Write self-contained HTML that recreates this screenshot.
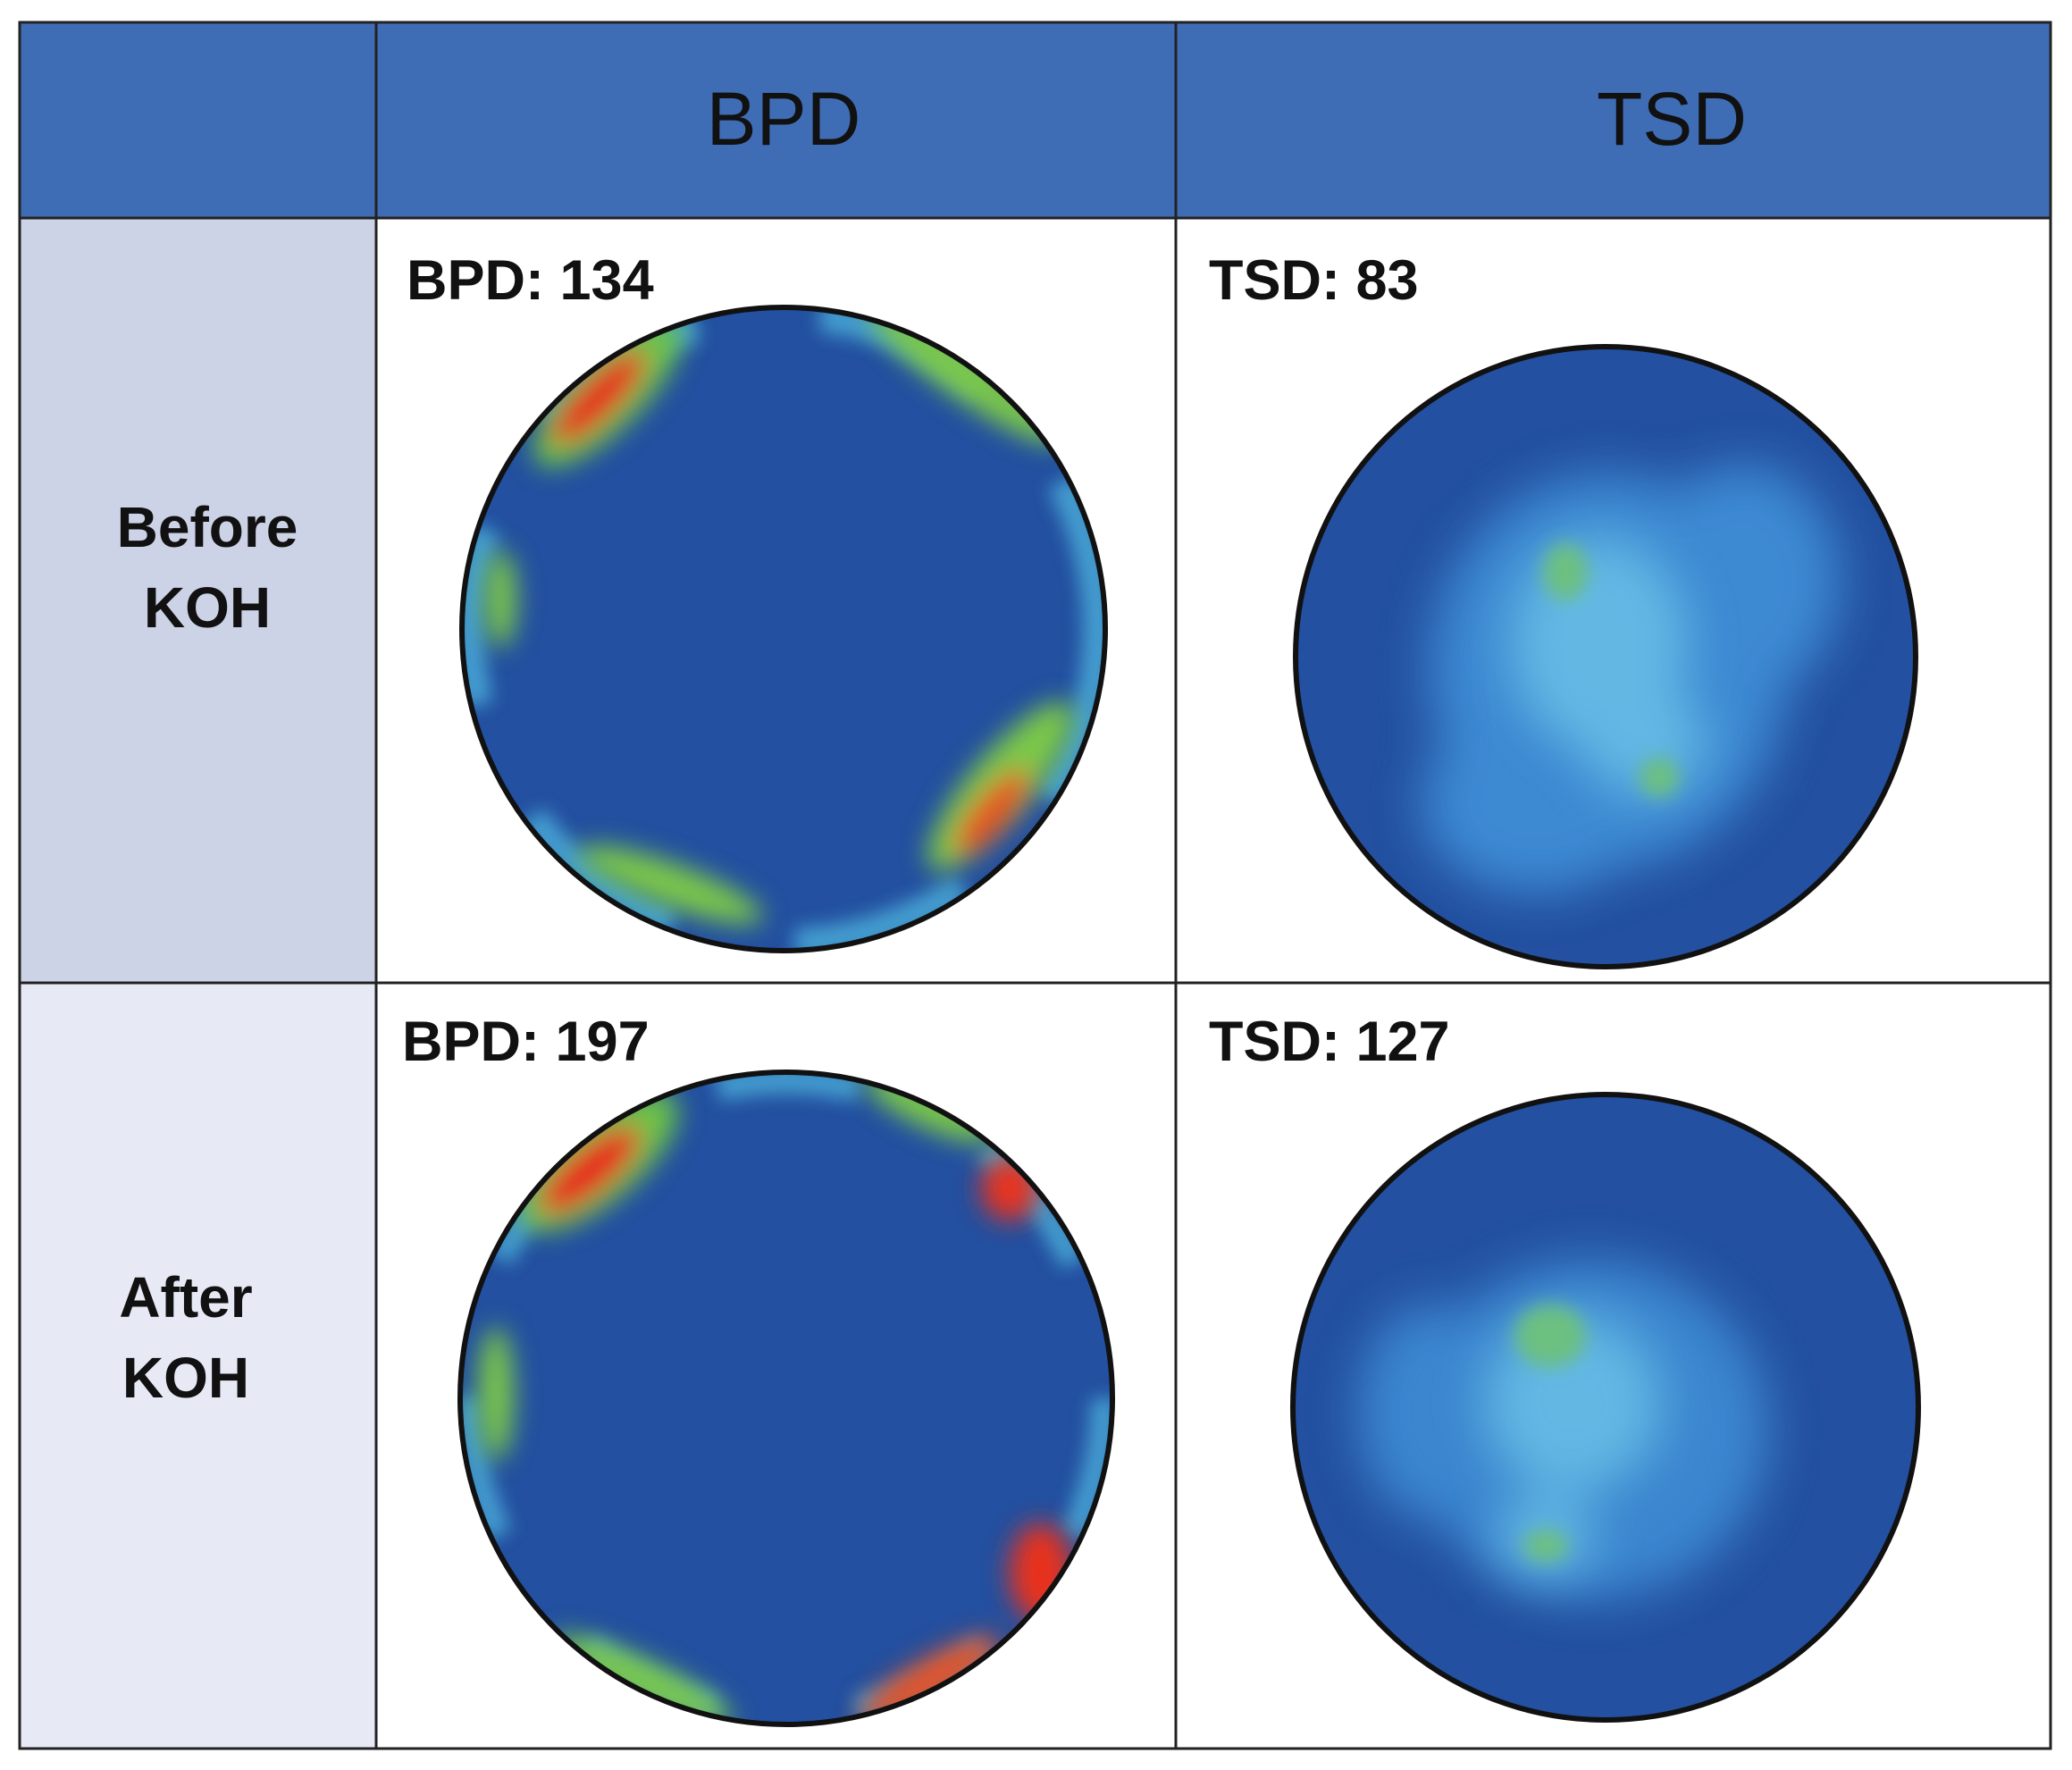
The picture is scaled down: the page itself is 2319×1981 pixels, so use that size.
<!DOCTYPE html>
<html><head><meta charset="utf-8"><style>
html,body{margin:0;padding:0;background:#fff;}
body{width:2319px;height:1981px;position:relative;overflow:hidden;font-family:"Liberation Sans",sans-serif;}
svg{position:absolute;left:0;top:0;}
</style></head><body>
<svg width="2319" height="1981" viewBox="0 0 2319 1981">
<defs>
<filter id="b1" x="-50%" y="-50%" width="200%" height="200%"><feGaussianBlur stdDeviation="14"/></filter>
<filter id="b2" x="-50%" y="-50%" width="200%" height="200%"><feGaussianBlur stdDeviation="28"/></filter>
<filter id="b3" x="-50%" y="-50%" width="200%" height="200%"><feGaussianBlur stdDeviation="10"/></filter>
<clipPath id="c1"><circle cx="877" cy="704" r="360"/></clipPath>
<clipPath id="c2"><circle cx="1797" cy="735" r="347"/></clipPath>
<clipPath id="c3"><circle cx="880" cy="1565" r="365"/></clipPath>
<clipPath id="c4"><circle cx="1797" cy="1575" r="350"/></clipPath>
</defs>
<rect x="22" y="25" width="2273" height="219" fill="#3f6db5"/>
<rect x="22" y="244" width="399" height="856" fill="#cdd3e6"/>
<rect x="22" y="1100" width="399" height="857" fill="#e7eaf5"/>
<g stroke="#222" stroke-width="3" fill="none">
<rect x="22" y="25" width="2273" height="1932"/>
<line x1="22" y1="244" x2="2295" y2="244"/>
<line x1="22" y1="1100" x2="2295" y2="1100"/>
<line x1="421" y1="25" x2="421" y2="1957"/>
<line x1="1316" y1="25" x2="1316" y2="1957"/>
</g>
<text x="877" y="162" font-size="84" text-anchor="middle" fill="#111">BPD</text>
<text x="1871" y="162" font-size="84" text-anchor="middle" fill="#111">TSD</text>
<g font-weight="bold" font-size="64" fill="#111" text-anchor="middle">
<text x="232" y="612">Before</text><text x="232" y="702">KOH</text>
<text x="208" y="1474">After</text><text x="208" y="1564">KOH</text>
</g>
<g font-weight="bold" font-size="63" fill="#111">
<text x="455" y="335">BPD: 134</text>
<text x="1353" y="335">TSD: 83</text>
<text x="450" y="1187">BPD: 197</text>
<text x="1353" y="1187">TSD: 127</text>
</g>
<g clip-path="url(#c1)">
<circle cx="877" cy="704" r="360" fill="#2350a0"/>
<circle cx="877" cy="704" r="352" fill="none" stroke="#4fb8e0" stroke-width="34" stroke-dasharray="200 140" opacity="0.75" filter="url(#b3)"/>
<g filter="url(#b1)">
<ellipse cx="680" cy="440" rx="110" ry="40" transform="rotate(-45 680 440)" fill="#6cc24a"/>
<ellipse cx="670" cy="445" rx="70" ry="22" transform="rotate(-45 670 445)" fill="#e8201c"/>
<ellipse cx="1080" cy="420" rx="130" ry="26" transform="rotate(35 1080 420)" fill="#7cc84a"/>
<ellipse cx="1120" cy="880" rx="120" ry="36" transform="rotate(-50 1120 880)" fill="#7cc84a"/>
<ellipse cx="1110" cy="910" rx="60" ry="20" transform="rotate(-50 1110 910)" fill="#e8501c"/>
<ellipse cx="750" cy="990" rx="110" ry="24" transform="rotate(20 750 990)" fill="#7cc84a"/>
<ellipse cx="560" cy="670" rx="18" ry="55" fill="#7cc84a"/>
</g>
</g>
<circle cx="877" cy="704" r="360" fill="none" stroke="#111" stroke-width="6"/>
<g clip-path="url(#c2)">
<circle cx="1797" cy="735" r="347" fill="#2350a0"/>
<g filter="url(#b2)" fill="#3f90d8" opacity="0.9">
<ellipse cx="1800" cy="750" rx="200" ry="220"/>
<ellipse cx="1720" cy="900" rx="130" ry="100"/>
<ellipse cx="1950" cy="650" rx="110" ry="130"/>
</g>
<g filter="url(#b2)" fill="#6cc4e8" opacity="0.8">
<ellipse cx="1790" cy="720" rx="100" ry="120"/>
<ellipse cx="1840" cy="830" rx="70" ry="60"/>
</g>
<g filter="url(#b3)" fill="#6cc080"><ellipse cx="1752" cy="640" rx="25" ry="32"/><ellipse cx="1857" cy="870" rx="22" ry="22"/></g>
</g>
<circle cx="1797" cy="735" r="347" fill="none" stroke="#111" stroke-width="6"/>
<g clip-path="url(#c3)">
<circle cx="880" cy="1565" r="365" fill="#2350a0"/>
<circle cx="880" cy="1565" r="356" fill="none" stroke="#4fb8e0" stroke-width="30" stroke-dasharray="160 160" opacity="0.75" filter="url(#b3)"/>
<g filter="url(#b1)">
<ellipse cx="670" cy="1300" rx="110" ry="45" transform="rotate(-40 670 1300)" fill="#6cc24a"/>
<ellipse cx="660" cy="1310" rx="70" ry="25" transform="rotate(-40 660 1310)" fill="#e8201c"/>
<ellipse cx="1040" cy="1240" rx="80" ry="22" transform="rotate(25 1040 1240)" fill="#7cc84a"/>
<ellipse cx="1130" cy="1330" rx="32" ry="36" fill="#e8301c"/>
<ellipse cx="555" cy="1560" rx="20" ry="75" fill="#7cc84a"/>
<ellipse cx="1165" cy="1760" rx="35" ry="55" fill="#e8301c"/>
<ellipse cx="1040" cy="1880" rx="90" ry="22" transform="rotate(-30 1040 1880)" fill="#e85020"/>
<ellipse cx="720" cy="1880" rx="110" ry="22" transform="rotate(25 720 1880)" fill="#7cc84a"/>
</g>
</g>
<circle cx="880" cy="1565" r="365" fill="none" stroke="#111" stroke-width="6"/>
<g clip-path="url(#c4)">
<circle cx="1797" cy="1575" r="350" fill="#2350a0"/>
<g filter="url(#b2)" fill="#3f90d8" opacity="0.85">
<ellipse cx="1780" cy="1600" rx="200" ry="190"/>
<ellipse cx="1600" cy="1580" rx="80" ry="120"/>
</g>
<g filter="url(#b2)" fill="#6cc4e8" opacity="0.8">
<ellipse cx="1760" cy="1570" rx="100" ry="100"/>
<ellipse cx="1730" cy="1720" rx="55" ry="45"/>
</g>
<g filter="url(#b3)" fill="#6cc080"><ellipse cx="1735" cy="1495" rx="40" ry="35"/><ellipse cx="1730" cy="1730" rx="25" ry="18"/></g>
</g>
<circle cx="1797" cy="1575" r="350" fill="none" stroke="#111" stroke-width="6"/>
</svg>
</body></html>
